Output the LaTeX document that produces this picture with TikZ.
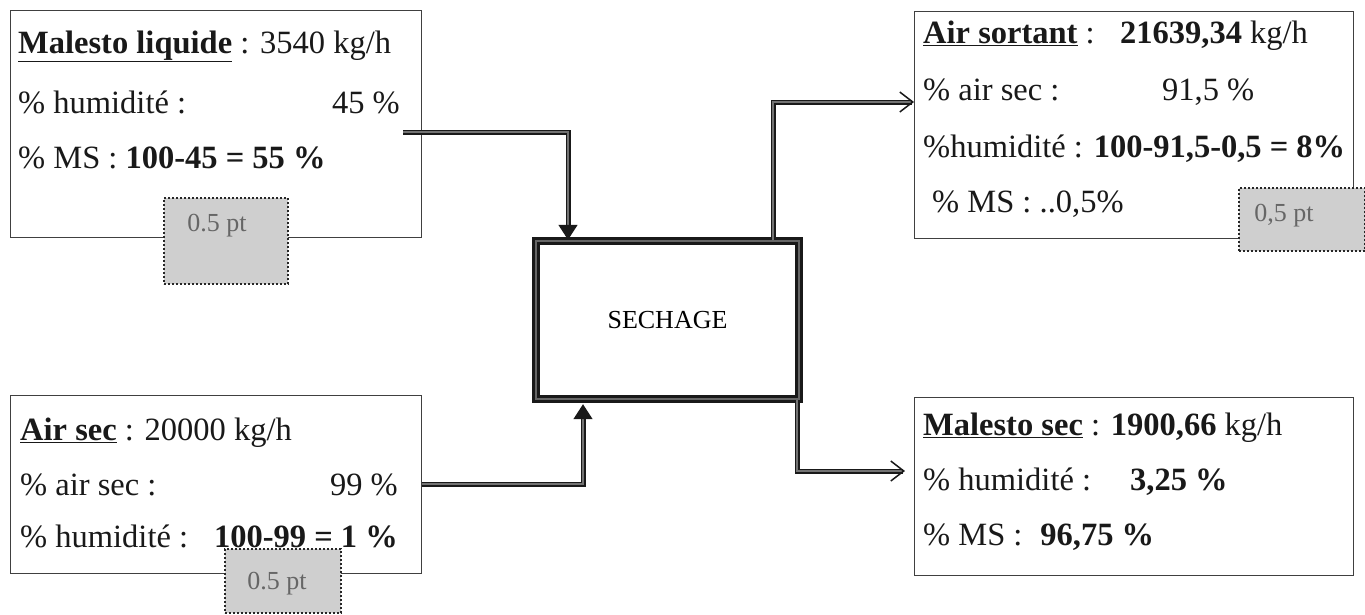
\documentclass[tikz,border=0pt]{standalone}
\usepackage{fontspec}
\setmainfont{Liberation Serif}
\usetikzlibrary{arrows.meta}
\begin{document}
\begin{tikzpicture}[x=1pt,y=-1pt,
  txt/.style={inner sep=0pt, font=\fontsize{32.5}{38}\selectfont, text=black!90},
  databox/.style={draw=black!75, line width=0.9pt, inner sep=0pt, anchor=north west},
  stampbox/.style={draw=black!85, fill=gray!38, line width=2pt, dash pattern=on 1.8pt off 2.2pt, inner sep=0pt, anchor=north west},
  stamptxt/.style={inner sep=0pt, font=\fontsize{26}{30}\selectfont, text=black!60},
  procbox/.style={draw=black!90, line width=2.4pt, double=black!60, double distance=2.8pt, inner sep=0pt, font=\fontsize{26}{30}\selectfont},
  flow/.style={draw=black!90, line width=1.5pt, double=black!55, double distance=2pt},
  tipdown/.style={-{Triangle[length=15pt,width=19pt]}},
  tipbarb/.style={-{Straight Barb[length=13pt,width=20pt]}}
]
\fill[white] (0,0) rectangle (1365,614);
\useasboundingbox (0,0) rectangle (1365,614);

% boxes
\node[databox, minimum width=411pt, minimum height=227pt] (b1) at (10,10) {};
\node[databox, minimum width=439pt, minimum height=227pt] (b2) at (914,11) {};
\node[databox, minimum width=411pt, minimum height=178pt] (b3) at (10,395) {};
\node[databox, minimum width=439pt, minimum height=178pt] (b4) at (914,397) {};
\node[procbox, minimum width=263pt, minimum height=158pt] (sech) at (667.5,320) {SECHAGE};

% box 1 text
\node[txt, anchor=base west] (t11) at (18,53) {\underline{\textbf{Malesto liquide}} : 3540 kg/h};
\node[txt, anchor=base west] (t12) at (18,113) {\% humidité :};
\node[txt, anchor=base east] (t12b) at (400,113) {45 \%};
\node[txt, anchor=base west] (t13) at (18,168) {\% MS : \textbf{100-45 = 55 \%}};

% box 2 text
\node[txt, anchor=base west] (t21) at (923,43) {\underline{\textbf{Air sortant}} :\hspace{0.45em} \textbf{21639,34} kg/h};
\node[txt, anchor=base west] (t22) at (923,100) {\% air sec :};
\node[txt, anchor=base west] (t22b) at (1162,100) {91,5 \%};
\node[txt, anchor=base west] (t23) at (923,157) {\%humidité : \textbf{100-91,5-0,5 = 8\%}};
\node[txt, anchor=base west] (t24) at (932,212) {\% MS : ..0,5\%};

% box 3 text
\node[txt, anchor=base west] (t31) at (20,440) {\underline{\textbf{Air sec}} : 20000 kg/h};
\node[txt, anchor=base west] (t32) at (20,495) {\% air sec :};
\node[txt, anchor=base east] (t32b) at (398,495) {99 \%};
\node[txt, anchor=base west] (t33) at (20,547) {\% humidité :};
\node[txt, anchor=base east] (t33b) at (398,547) {\textbf{100-99 = 1 \%}};

% box 4 text
\node[txt, anchor=base west] (t41) at (923,435) {\underline{\textbf{Malesto sec}} : \textbf{1900,66} kg/h};
\node[txt, anchor=base west] (t42) at (923,490) {\% humidité :};
\node[txt, anchor=base west] (t42b) at (1130,490) {\textbf{3,25 \%}};
\node[txt, anchor=base west] (t43) at (923,545) {\% MS :\hspace{0.3em} \textbf{96,75 \%}};

% stamps
\node[stampbox, minimum width=124pt, minimum height=86pt] (s1) at (163,197) {};
\node[stamptxt] (s1t) at (217,226) {0.5 pt};
\node[stampbox, minimum width=126pt, minimum height=63pt] (s2) at (1238,187) {};
\node[stamptxt] (s2t) at (1284,216) {0,5 pt};
\node[stampbox, minimum width=116pt, minimum height=64pt] (s3) at (224,548) {};
\node[stamptxt] (s3t) at (277,584) {0.5 pt};

% connectors
\coordinate (c1) at (403,132);
\coordinate (k1) at (568,132);
\coordinate (k2) at (773,102);
\coordinate (k3) at (583,484);
\coordinate (k4) at (797,471);
\draw[flow, tipdown] (c1) -| (k1 |- sech.north);
\draw[flow, tipbarb] (k2 |- sech.north) |- (b2.west |- k2);
\draw[flow, tipdown, shorten >=4pt] (b3.east |- k3) -| (k3 |- sech.south);
\draw[flow, tipbarb, shorten >=9pt] (k4 |- sech.south) |- (b4.west |- k4);
\end{tikzpicture}
\end{document}
